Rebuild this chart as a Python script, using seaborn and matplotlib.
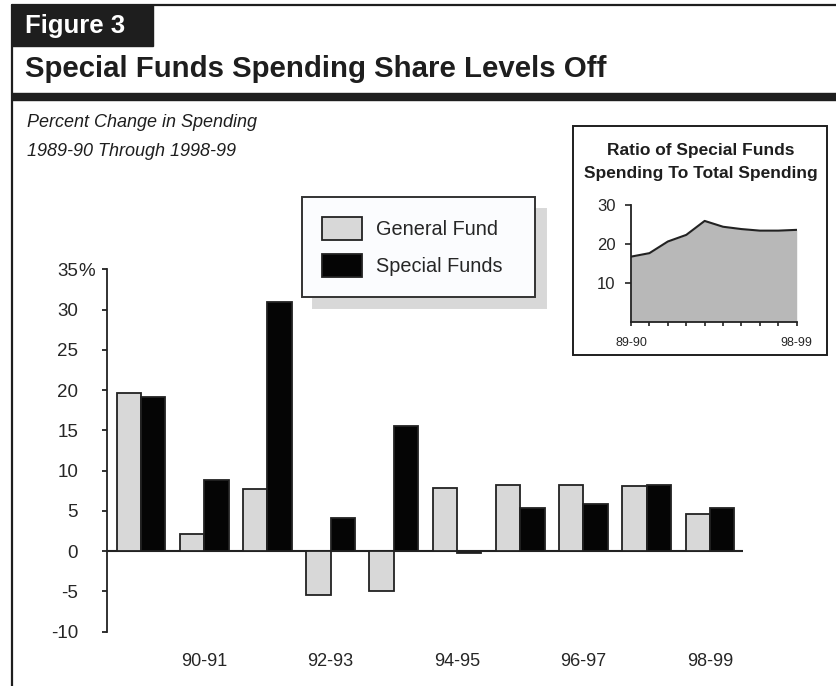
import numpy as np
import pandas as pd
import matplotlib
matplotlib.use('Agg')
import matplotlib.pyplot as plt
import seaborn as sns
from matplotlib.lines import Line2D
from matplotlib.patches import Rectangle

# data
years = ['89-90', '90-91', '91-92', '92-93', '93-94',
         '94-95', '95-96', '96-97', '97-98', '98-99']
general_fund = [19.6, 2.1, 7.7, -5.5, -4.9, 7.8, 8.2, 8.2, 8.1, 4.6]
special_funds = [19.2, 8.8, 30.9, 4.15, 15.6, -0.25, 5.4, 5.8, 8.2, 5.3]
shown_years = ['90-91', '92-93', '94-95', '96-97', '98-99']
y_ticks = [-10, -5, 0, 5, 10, 15, 20, 25, 30, 35]

# inset: special funds share of total spending
ratio = [16.7, 17.6, 20.6, 22.3, 25.9, 24.4, 23.8, 23.4, 23.4, 23.6]
ratio_ticks = [10, 20, 30]

sns.set_style('ticks')
plt.rcParams['font.family'] = ['Liberation Sans', 'DejaVu Sans']

W, H = 837, 686
fig = plt.figure(figsize=(W / 100, H / 100), dpi=100)


def fx(px):
    return px / W


def fy(py):
    return 1 - py / H


# page frame / header
ink = '#1e1e1e'
fig.add_artist(Line2D([fx(12), 1], [fy(5), fy(5)], color=ink, lw=1.6, transform=fig.transFigure))
fig.add_artist(Line2D([fx(12.5), fx(12.5)], [fy(5), 0], color=ink, lw=1.6, transform=fig.transFigure))
fig.add_artist(Rectangle((fx(12), fy(46)), fx(153) - fx(12), fy(5) - fy(46),
                         color=ink, transform=fig.transFigure))
fig.add_artist(Rectangle((fx(12), fy(100)), 1 - fx(12), fy(93) - fy(100),
                         color=ink, transform=fig.transFigure))
fig.text(fx(25), fy(33), 'Figure 3', color='white', fontsize=18.5, fontweight='bold', va='baseline')
fig.text(fx(25), fy(77), 'Special Funds Spending Share Levels Off', color=ink,
         fontsize=21.2, fontweight='bold', va='baseline')
fig.text(fx(27), fy(127), 'Percent Change in Spending', fontsize=13, style='italic',
         color=ink, va='baseline')
fig.text(fx(27), fy(156), '1989-90 Through 1998-99', fontsize=13, style='italic',
         color=ink, va='baseline')

# main bar chart
df = pd.DataFrame({
    'year': years * 2,
    'value': general_fund + special_funds,
    'fund': ['General Fund'] * len(years) + ['Special Funds'] * len(years),
})

ax = fig.add_axes([fx(106.7), fy(631.7), fx(742.7) - fx(106.7), fy(269.3) - fy(631.7)])
ax.patch.set_alpha(0)
sns.barplot(data=df, x='year', y='value', hue='fund', order=years,
            palette={'General Fund': '#d8d8d8', 'Special Funds': '#050505'},
            width=0.77, edgecolor='#222222', linewidth=1.3, saturation=1,
            errorbar=None, ax=ax, zorder=3)

ax.set_xlim(-0.543, 9.52)
ax.set_ylim(-10, 35)
ax.axhline(0, color='#222222', lw=1.5, zorder=2)
ax.set_yticks(y_ticks)
ax.set_yticklabels([str(t) for t in y_ticks])
ax.set_xticks([years.index(y) for y in shown_years])
ax.set_xticklabels(shown_years)
ax.tick_params(axis='y', length=3.6, width=1.3, color='#222222', pad=17, labelsize=13.5)
ax.tick_params(axis='x', length=0, pad=15, labelsize=13)
ax.set_xlabel('')
ax.set_ylabel('')
for s in ['top', 'right', 'bottom']:
    ax.spines[s].set_visible(False)
ax.spines['left'].set_linewidth(1.3)
ax.spines['left'].set_color('#222222')
ax.annotate('%', xy=(0, 35), xycoords=('axes fraction', 'data'),
            xytext=(-28.5, 0), textcoords='offset pixels', ha='left', va='center_baseline',
            fontsize=13.5)

handles, labels = ax.get_legend_handles_labels()
ax.legend(handles, labels, loc='upper left', mode='expand',
          bbox_to_anchor=(fx(302), fy(305), fx(535) - fx(302), fy(197) - fy(305)),
          bbox_transform=fig.transFigure, fontsize=14.3, frameon=True, fancybox=False,
          shadow={'ox': 8, 'oy': -8.5, 'color': '#d8d8d8', 'alpha': 1},
          handlelength=2.0, handleheight=1.4, handletextpad=0.75, labelspacing=0.7,
          borderpad=1.0, borderaxespad=0, facecolor='#fbfcfe', edgecolor='#333333',
          framealpha=1)
ax.get_legend().get_frame().set_linewidth(1.4)

# inset box
fig.add_artist(Rectangle((fx(573), fy(355)), fx(827) - fx(573), fy(126) - fy(355),
                         facecolor='white', edgecolor=ink, lw=1.4, zorder=-1,
                         transform=fig.transFigure))
fig.text(fx(701), fy(155), 'Ratio of Special Funds', ha='center', va='baseline',
         fontsize=12.5, fontweight='bold', color=ink)
fig.text(fx(701), fy(177.7), 'Spending To Total Spending', ha='center', va='baseline',
         fontsize=12.5, fontweight='bold', color=ink)

iax = fig.add_axes([fx(631), fy(321.5), fx(796.7) - fx(631), fy(205) - fy(321.5)])
xs = np.arange(len(ratio))
iax.fill_between(xs, 0, ratio, color='#b8b8b8', lw=0)
sns.lineplot(x=xs, y=ratio, ax=iax, color='#222222', lw=1.5)
iax.set_xlim(0, 9)
iax.set_ylim(0, 30)
iax.set_yticks(ratio_ticks)
iax.set_xticks(xs)
iax.set_xticklabels([years[0]] + [''] * 8 + [years[-1]])
iax.tick_params(axis='y', length=4, width=1.2, pad=7, labelsize=12, color='#222222')
iax.tick_params(axis='x', length=3, width=1.2, pad=8, labelsize=9, color='#222222')
iax.patch.set_alpha(0)
for s in ['top', 'right']:
    iax.spines[s].set_visible(False)
for s in ['left', 'bottom']:
    iax.spines[s].set_linewidth(1.3)
    iax.spines[s].set_color('#222222')

fig.savefig('out.png', dpi=100)
